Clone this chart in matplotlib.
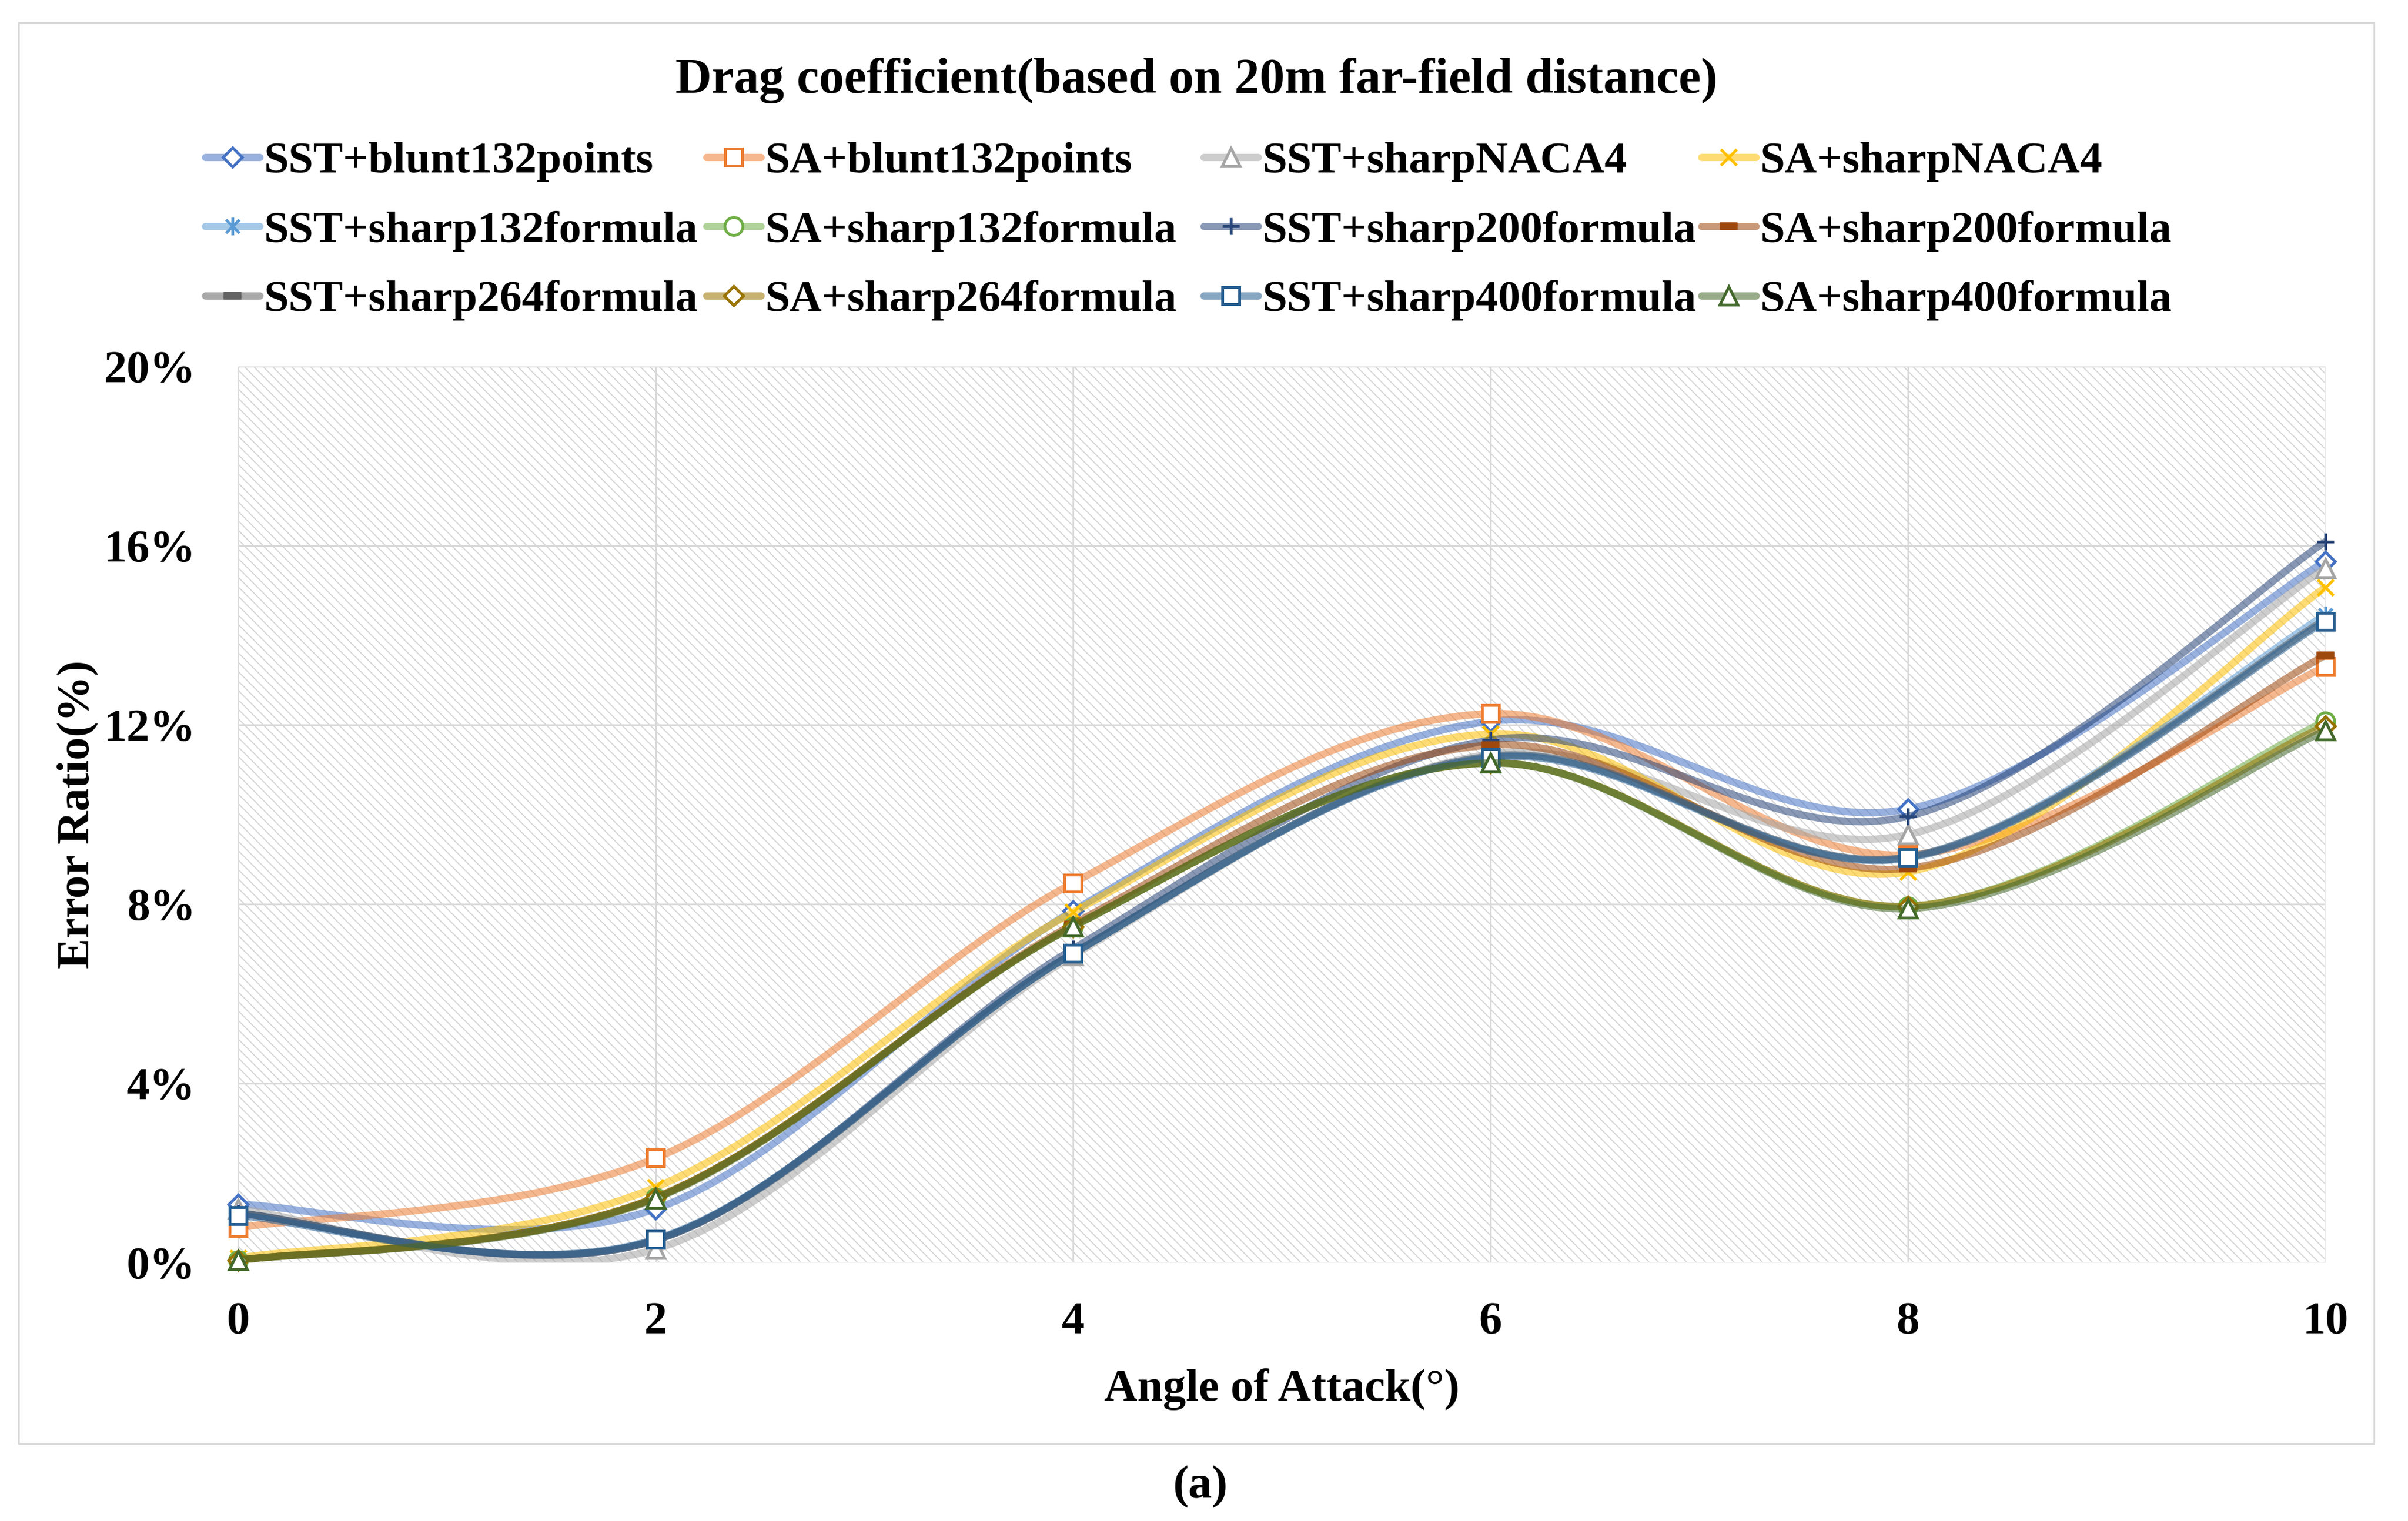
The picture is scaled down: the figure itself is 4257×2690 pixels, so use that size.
import numpy as np
import matplotlib
matplotlib.use("Agg")
import matplotlib.pyplot as plt
from matplotlib.path import Path
from matplotlib.patches import PathPatch, Rectangle
from matplotlib.lines import Line2D
from matplotlib.colors import to_rgba
from matplotlib.ticker import FuncFormatter

# ---------------- data ----------------
angles = [0, 2, 4, 6, 8, 10]

labels = [
    "SST+blunt132points", "SA+blunt132points", "SST+sharpNACA4", "SA+sharpNACA4",
    "SST+sharp132formula", "SA+sharp132formula", "SST+sharp200formula", "SA+sharp200formula",
    "SST+sharp264formula", "SA+sharp264formula", "SST+sharp400formula", "SA+sharp400formula",
]

sst_blunt132 = [1.30, 1.20, 7.85, 12.08, 10.12, 15.65]
sa_blunt132 = [0.78, 2.33, 8.47, 12.25, 9.10, 13.30]
sst_naca4 = [1.20, 0.30, 6.85, 11.35, 9.55, 15.50]
sa_naca4 = [0.10, 1.68, 7.82, 11.80, 8.72, 15.07]
sst_s132 = [1.10, 0.50, 6.90, 11.30, 9.05, 14.45]
sa_s132 = [0.05, 1.45, 7.50, 11.15, 7.95, 12.08]
sst_s200 = [1.10, 0.50, 7.00, 11.66, 9.96, 16.09]
sa_s200 = [0.05, 1.45, 7.55, 11.55, 8.80, 13.55]
sst_s264 = [1.10, 0.50, 6.90, 11.30, 9.05, 14.35]
sa_s264 = [0.05, 1.45, 7.50, 11.15, 7.95, 11.98]
sst_s400 = [1.05, 0.52, 6.90, 11.27, 9.03, 14.31]
sa_s400 = [0.05, 1.43, 7.50, 11.15, 7.90, 11.87]

series = [sst_blunt132, sa_blunt132, sst_naca4, sa_naca4, sst_s132, sa_s132,
          sst_s200, sa_s200, sst_s264, sa_s264, sst_s400, sa_s400]

yticks = [0, 4, 8, 12, 16, 20]
xticks = [0, 2, 4, 6, 8, 10]

# ---------------- styles ----------------
colors = ["#4472C4", "#ED7D31", "#A5A5A5", "#FFC000", "#5B9BD5", "#70AD47",
          "#264478", "#9E480E", "#636363", "#997300", "#255E91", "#43682B"]

star_path = Path([(0, -1), (0, 1), (-0.75, -0.75), (0.75, 0.75), (-0.75, 0.75), (0.75, -0.75)],
                 [Path.MOVETO, Path.LINETO, Path.MOVETO, Path.LINETO, Path.MOVETO, Path.LINETO])
dash_path = Path([(-1, -0.38), (1, -0.38), (1, 0.38), (-1, 0.38), (-1, -0.38)],
                 [Path.MOVETO, Path.LINETO, Path.LINETO, Path.LINETO, Path.CLOSEPOLY])

# (marker, size, facecolor mode)
mstyles = [("D", 5.7, "white"), ("s", 7.2, "white"), ("^", 7.6, "white"), ("x", 6.8, "none"),
           (star_path, 7.6, "none"), ("o", 7.6, "white"), ("P_plus", 7.0, "none"), (dash_path, 7.4, "fill"),
           (dash_path, 7.4, "fill"), ("D", 5.7, "white"), ("s", 7.2, "white"), ("^", 7.6, "white")]

LINE_ALPHA = 0.55
LW = 3.1
MEW = 1.2

plt.rcParams["font.family"] = ["Liberation Serif", "DejaVu Serif"]
plt.rcParams["font.weight"] = "bold"
plt.rcParams["hatch.linewidth"] = 0.45

W, H = 4257, 2690
DPI = 300
fig = plt.figure(figsize=(W / DPI, H / DPI), dpi=DPI)
fig.patch.set_facecolor("white")

def fx(px):
    return px / W

def fy(py):
    return 1 - py / H

ax_l, ax_r, ax_t, ax_b = 421, 4111, 648, 2233
ax = fig.add_axes([fx(ax_l), fy(ax_b), fx(ax_r - ax_l), (ax_b - ax_t) / H])

# hatched plot area
ax.add_patch(Rectangle((0, 0), 1, 1, transform=ax.transAxes, facecolor="white",
                       edgecolor="#D4D4D4", linewidth=0, hatch="\\" * 6, zorder=0))

ax.set_xlim(0, 10)
ax.set_ylim(0, 20)
ax.set_xticks(xticks)
ax.set_yticks(yticks)
ax.yaxis.set_major_formatter(FuncFormatter(lambda v, p: f"{v:.0f}%"))
ax.grid(True, color="#D9D9D9", linewidth=0.7, zorder=0.5)
ax.set_axisbelow(True)
for s in ax.spines.values():
    s.set_visible(False)
ax.tick_params(axis="both", length=0, labelsize=19.5)
ax.tick_params(axis="y", pad=18)
ax.tick_params(axis="x", pad=16.5)
for t in ax.get_xticklabels() + ax.get_yticklabels():
    t.set_fontweight("bold")


def smooth_path(xs, ys):
    pts = np.column_stack([np.asarray(xs, float), np.asarray(ys, float)])
    n = len(pts)
    verts = [pts[0]]
    codes = [Path.MOVETO]
    for i in range(n - 1):
        p0 = pts[max(i - 1, 0)]
        p1 = pts[i]
        p2 = pts[i + 1]
        p3 = pts[min(i + 2, n - 1)]
        c1 = p1 + (p2 - p0) / 6.0
        c2 = p2 - (p3 - p1) / 6.0
        verts += [c1, c2, p2]
        codes += [Path.CURVE4] * 3
    return Path(verts, codes)


def marker_kwargs(i):
    m, ms, fmode = mstyles[i]
    c = colors[i]
    if m == "P_plus":
        m = "+"
    kw = dict(marker=m, markersize=ms, markeredgecolor=c, markeredgewidth=MEW)
    if fmode == "white":
        kw["markerfacecolor"] = "white"
    elif fmode == "none":
        kw["markerfacecolor"] = "none"
    else:
        kw["markerfacecolor"] = c
        kw["markeredgewidth"] = 0.4
    return kw


handles = []
for i, vals in enumerate(series):
    z = 2 + i * 0.05
    lc = to_rgba(colors[i], LINE_ALPHA)
    ax.add_patch(PathPatch(smooth_path(angles, vals), facecolor="none", edgecolor=lc,
                           linewidth=LW, capstyle="round", joinstyle="round", zorder=z))
    ax.plot(angles, vals, linestyle="none", clip_on=False, zorder=z + 0.01, **marker_kwargs(i))
    handles.append(Line2D([], [], color=lc, linewidth=LW, solid_capstyle="round", **marker_kwargs(i)))

# ---------------- legend (4 columns, row-wise order) ----------------
col_x = [363, 1249, 2128, 3008]
leg_top = 250
for c in range(4):
    idx = [c, c + 4, c + 8]
    fig.legend([handles[k] for k in idx], [labels[k] for k in idx],
               loc="upper left", bbox_to_anchor=(fx(col_x[c]), fy(leg_top)),
               bbox_transform=fig.transFigure, frameon=False, ncol=1,
               handlelength=1.22, handletextpad=0.1,
               labelspacing=0.64, borderpad=0, borderaxespad=0, numpoints=1,
               prop={"weight": "bold", "size": 18.9})

# ---------------- texts ----------------
fig.text(fx(2115), fy(164), "Drag coefficient(based on 20m far-field distance)",
         ha="center", va="baseline", fontsize=21.3, fontweight="bold")
fig.text(fx(2266), fy(2477), "Angle of Attack(\u00b0)", ha="center", va="baseline",
         fontsize=19.5, fontweight="bold")
fig.text(fx(137), fy(1440), "Error Ratio(%)", ha="center", va="center", rotation=90,
         fontsize=19.5, fontweight="bold")
fig.text(fx(2122), fy(2649), "(a)", ha="center", va="baseline", fontsize=20, fontweight="bold")

# outer chart border
fig.add_artist(Rectangle((fx(33), fy(2553)), fx(4197 - 33), (2553 - 40) / H,
                         transform=fig.transFigure, fill=False, edgecolor="#D9D9D9",
                         linewidth=0.7, zorder=-1))

fig.savefig("out.png", dpi=DPI, facecolor="white")
